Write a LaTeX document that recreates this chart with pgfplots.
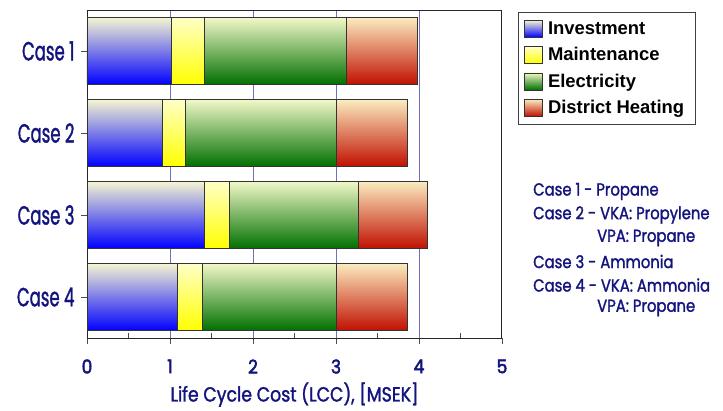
\documentclass[border=0pt]{standalone}
\usepackage{fontspec}
\usepackage{pgfplots}
\pgfplotsset{compat=1.18}
\newfontfamily\lsans{Liberation Sans}
\newfontfamily\cf{Poppins}[FakeStretch=0.85,FakeBold=1.5]
\newfontfamily\cfb{Poppins}[FakeStretch=0.9,FakeBold=2.5]
\definecolor{navy}{HTML}{14147E}
\definecolor{gridc}{HTML}{7070C0}
\definecolor{topc}{HTML}{F6F6D2}
\definecolor{blueb}{HTML}{0000FF}
\definecolor{yelb}{HTML}{FFFF00}
\definecolor{yelt}{HTML}{FFFFC8}
\definecolor{greenb}{HTML}{007000}
\definecolor{redb}{HTML}{C01000}
\definecolor{redt}{HTML}{FBECC0}
\definecolor{greent}{HTML}{F2F8C8}
\pgfplotsset{
  inv/.style={draw=black!80, line width=0.6pt, top color=topc, bottom color=blueb},
  mai/.style={draw=black!80, line width=0.6pt, top color=yelt, bottom color=yelb},
  ele/.style={draw=black!80, line width=0.6pt, top color=greent, bottom color=greenb},
  dhe/.style={draw=black!80, line width=0.6pt, top color=redt, bottom color=redb},
  base/.style={at={(0,0)}, anchor=south west,
    scale only axis, width=415bp, height=328bp,
    xbar stacked, bar width=0.82,
    xmin=0, xmax=5, ymin=0.5, ymax=4.5, y dir=reverse},
}
\begin{document}
\begin{tikzpicture}
\path (-87bp,-72bp) rectangle (636bp,338bp);
\begin{axis}[base,
  xtick={0,1,2,3,4,5}, ytick={1,2,3,4},
  yticklabels={Case 1,Case 2,Case 3,Case 4},
  minor xtick={1,2,3,4}, xminorgrids, minor tick length=0pt,
  minor grid style={gridc, line width=0.8pt},
  xtick pos=bottom, ytick pos=left,
  tick align=outside, major tick length=6bp,
  tick style={black!70, line width=0.8pt},
  extra x ticks={0.5,1.5,2.5,3.5,4.5}, extra x tick labels={},
  extra x tick style={tick align=inside, major tick length=5bp},
  axis line style={black!85, line width=1pt},
  /pgf/number format/assume math mode=true,
  xticklabel style={font=\cfb\fontsize{19}{19}\selectfont, text=navy, yshift=-12bp},
  yticklabel style={font=\cf\fontsize{19.5}{19.5}\selectfont, text=navy, yscale=1.35, xshift=-3bp},
  xlabel={Life Cycle Cost (LCC), [MSEK]},
  xlabel style={font=\cf\fontsize{20.5}{20.5}\selectfont, text=navy, yshift=4bp},
  area legend,
  legend style={at={(1.0386,0.994)}, anchor=north west, draw=black!75, line width=0.8pt,
    font=\lsans\bfseries\fontsize{18.5}{18.5}\selectfont, row sep=7bp,
    inner xsep=6bp, inner ysep=7bp,
    nodes={inner xsep=5bp, inner ysep=2.3bp}},
  legend image code/.code={\draw[#1, draw=black!80] (0bp,-8.5bp) rectangle (18bp,8.5bp);},
  legend cell align=left,
]
\addplot[inv] coordinates {(1.02,1)};
\addplot[mai] coordinates {(0.39,1)};
\addplot[ele] coordinates {(1.72,1)};
\addplot[dhe] coordinates {(0.85,1)};
\legend{Investment, Maintenance, Electricity, District Heating}
\end{axis}
\begin{axis}[base, hide axis]
\addplot[inv] coordinates {(0.91,2)};
\addplot[mai] coordinates {(0.28,2)};
\addplot[ele] coordinates {(1.81,2)};
\addplot[dhe] coordinates {(0.86,2)};
\end{axis}
\begin{axis}[base, hide axis]
\addplot[inv] coordinates {(1.41,3)};
\addplot[mai] coordinates {(0.30,3)};
\addplot[ele] coordinates {(1.56,3)};
\addplot[dhe] coordinates {(0.83,3)};
\end{axis}
\begin{axis}[base, hide axis]
\addplot[inv] coordinates {(1.09,4)};
\addplot[mai] coordinates {(0.30,4)};
\addplot[ele] coordinates {(1.61,4)};
\addplot[dhe] coordinates {(0.86,4)};
\end{axis}
\begin{scope}[every node/.style={anchor=west, inner sep=0pt, font=\cf\fontsize{17.5}{17.5}\selectfont, text=navy}]
\node at (446bp,146.5bp) {Case 1 - Propane};
\node at (446bp,123bp) {Case 2 - VKA: Propylene};
\node at (510bp,100bp) {VPA: Propane};
\node at (446bp,76.5bp) {Case 3 - Ammonia};
\node at (446bp,53bp) {Case 4 - VKA: Ammonia};
\node at (510bp,30bp) {VPA: Propane};
\end{scope}
\end{tikzpicture}
\end{document}
